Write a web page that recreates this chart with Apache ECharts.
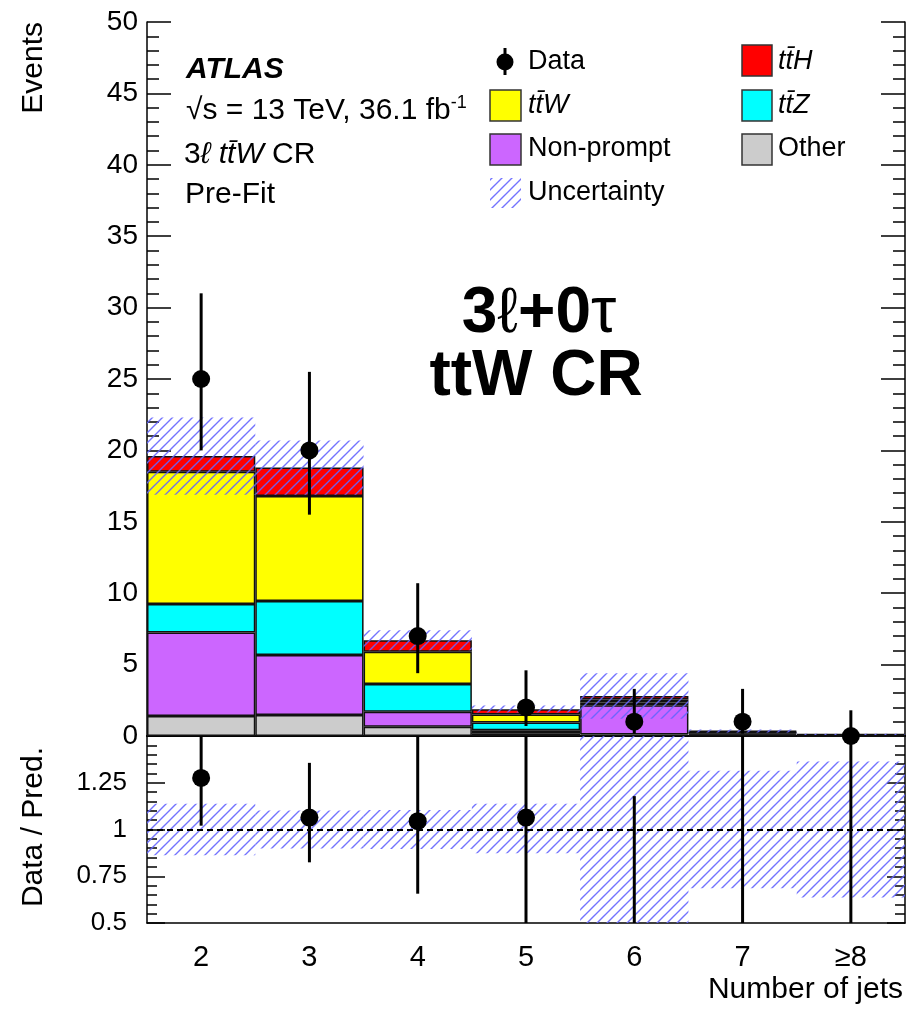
<!DOCTYPE html>
<html>
<head>
<meta charset="utf-8">
<script src="https://cdn.jsdelivr.net/npm/echarts@6/dist/echarts.min.js"></script>
<style>
html,body{margin:0;padding:0;background:#fff;}
#main{width:908px;height:1013px;}
</style>
</head>
<body>
<div id="main"></div>
<script>
// ---- data ----
const categories = ['2', '3', '4', '5', '6', '7', '\u22658'];
const other      = [1.40, 1.47, 0.65, 0.20, 0.10, 0.03, 0.01];
const nonPrompt  = [5.85, 4.20, 1.05, 0.20, 2.05, 0.07, 0.02];
const ttZ        = [2.00, 3.78, 1.95, 0.55, 0.20, 0.07, 0.02];
const ttW        = [9.25, 7.35, 2.25, 0.55, 0.20, 0.13, 0.04];
const ttH        = [1.10, 2.00, 0.80, 0.38, 0.25, 0.05, 0.02];
const uncLo      = [16.9, 16.9, 6.00, 1.64, 1.20, 0.24, 0.07];
const uncHi      = [22.3, 20.7, 7.40, 2.14, 4.40, 0.46, 0.15];
const dataVals   = [25, 20, 7, 2, 1, 1, 0];
const dataLo     = [20.0, 15.5, 4.4, 0.7, 0.17, 0.17, 0];
const dataHi     = [31.0, 25.5, 10.7, 4.6, 3.3, 3.3, 1.8];
const ratioTickLabels = ['0.5', '0.75', '1', '1.25'];

// ---- derived ----
const pred = categories.map((_, i) => other[i] + nonPrompt[i] + ttZ[i] + ttW[i] + ttH[i]);
const topHatchRows = categories.map((_, i) => [i, Math.max(0, uncLo[i]), uncHi[i]]);
const topDataRows = categories.map((_, i) => [i, dataVals[i], dataLo[i], dataHi[i]]);
const ratioHatchRows = categories.map((_, i) => [i, uncLo[i] / pred[i], uncHi[i] / pred[i]]);
const ratioDataRows = categories.map((_, i) => [i, dataVals[i] / pred[i], dataLo[i] / pred[i], dataHi[i] / pred[i]]);

const FONT = '"Liberation Sans", Arial, Helvetica, sans-serif';
const RMIN = 0.5, RMAX = 1.5;

// hatch pattern
function makeHatch() {
  const s = 10;
  const c = document.createElement('canvas');
  c.width = s; c.height = s;
  const g = c.getContext('2d');
  g.strokeStyle = 'rgba(100,100,255,0.9)';
  g.lineWidth = 1.4;
  g.beginPath();
  g.moveTo(-1, s + 1); g.lineTo(s + 1, -1);
  g.moveTo(-1, 1); g.lineTo(1, -1);
  g.moveTo(s - 1, s + 1); g.lineTo(s + 1, s - 1);
  g.stroke();
  return c;
}
const hatch = makeHatch();
const hatchFill = { image: hatch, repeat: 'repeat' };

const chart = echarts.init(document.getElementById('main'), null, { renderer: 'canvas' });

function barSeries(name, values, color) {
  return {
    name, type: 'bar', xAxisIndex: 0, yAxisIndex: 0, stack: 'bkg',
    data: values, barCategoryGap: '0%', barGap: '0%',
    itemStyle: { color, borderColor: '#111', borderWidth: 1.5 },
    emphasis: { disabled: true }, silent: true, z: 2
  };
}

function hatchRender(clampLo, clampHi) {
  return function (params, api) {
    const i = api.value(0);
    let lo = api.value(1), hi = api.value(2);
    lo = Math.max(clampLo, lo); hi = Math.min(clampHi, hi);
    if (hi <= lo) return null;
    const pHi = api.coord([i, hi]);
    const pLo = api.coord([i, lo]);
    const w = api.size([1, 0])[0];
    return {
      type: 'rect',
      shape: { x: pHi[0] - w / 2, y: pHi[1], width: w, height: pLo[1] - pHi[1] },
      style: { fill: hatchFill }
    };
  };
}

function dataRender(clampLo, clampHi) {
  return function (params, api) {
    const i = api.value(0);
    const v = api.value(1);
    let lo = api.value(2), hi = api.value(3);
    lo = Math.max(clampLo, lo); hi = Math.min(clampHi, hi);
    const children = [];
    if (hi > lo) {
      const a = api.coord([i, hi]);
      const b = api.coord([i, lo]);
      children.push({ type: 'line', shape: { x1: a[0], y1: a[1], x2: b[0], y2: b[1] },
        style: { stroke: '#000', lineWidth: 3 } });
    }
    if (v >= clampLo && v <= clampHi) {
      const p = api.coord([i, v]);
      children.push({ type: 'circle', shape: { cx: p[0], cy: p[1], r: 9 }, style: { fill: '#000' } });
    }
    return { type: 'group', children };
  };
}

const axisLineStyle = { color: '#000', width: 1.5 };

const option = {
  backgroundColor: '#fff',
  animation: false,
  textStyle: { fontFamily: FONT },
  grid: [
    { left: 147, right: 3, top: 22, height: 714 },
    { left: 147, right: 3, top: 736, height: 187 }
  ],
  xAxis: [
    { type: 'category', gridIndex: 0, data: categories, position: 'bottom',
      axisLine: { lineStyle: axisLineStyle }, axisLabel: { show: false },
      axisTick: { inside: true, length: 22, lineStyle: axisLineStyle } },
    { type: 'category', gridIndex: 0, data: categories, position: 'top',
      axisLine: { lineStyle: axisLineStyle }, axisLabel: { show: false },
      axisTick: { inside: true, length: 22, lineStyle: axisLineStyle } },
    { type: 'category', gridIndex: 1, data: categories, position: 'bottom',
      axisLine: { lineStyle: axisLineStyle },
      axisLabel: { show: true, fontSize: 29, color: '#000', fontFamily: FONT, margin: 20 },
      axisTick: { inside: true, length: 9, lineStyle: axisLineStyle } },
    { type: 'category', gridIndex: 1, data: categories, position: 'top',
      axisLine: { lineStyle: axisLineStyle }, axisLabel: { show: false },
      axisTick: { inside: true, length: 9, lineStyle: axisLineStyle } }
  ],
  yAxis: [
    { type: 'value', gridIndex: 0, min: 0, max: 50, interval: 5, position: 'left',
      axisLine: { show: true, lineStyle: axisLineStyle },
      axisTick: { show: true, inside: true, length: 24, lineStyle: axisLineStyle },
      minorTick: { show: true, splitNumber: 5, length: 12, lineStyle: { color: '#000', width: 1.5 } },
      splitLine: { show: false },
      axisLabel: { fontSize: 28, color: '#000', fontFamily: FONT, margin: 9 } },
    { type: 'value', gridIndex: 0, min: 0, max: 50, interval: 5, position: 'right',
      axisLine: { show: true, lineStyle: axisLineStyle },
      axisTick: { show: true, inside: true, length: 24, lineStyle: axisLineStyle },
      minorTick: { show: true, splitNumber: 5, length: 12, lineStyle: { color: '#000', width: 1.5 } },
      splitLine: { show: false }, axisLabel: { show: false } },
    { type: 'value', gridIndex: 1, min: RMIN, max: RMAX, interval: 0.25, position: 'left',
      axisLine: { show: true, lineStyle: axisLineStyle },
      axisTick: { show: true, inside: true, length: 18, lineStyle: axisLineStyle },
      minorTick: { show: true, splitNumber: 5, length: 10, lineStyle: { color: '#000', width: 1.5 } },
      splitLine: { show: false },
      axisLabel: { fontSize: 26, color: '#000', fontFamily: FONT, margin: 20,
        formatter: v => { const s = String(Math.round(v * 100) / 100); return ratioTickLabels.indexOf(s) >= 0 ? s : ''; } } },
    { type: 'value', gridIndex: 1, min: RMIN, max: RMAX, interval: 0.25, position: 'right',
      axisLine: { show: true, lineStyle: axisLineStyle },
      axisTick: { show: true, inside: true, length: 18, lineStyle: axisLineStyle },
      minorTick: { show: true, splitNumber: 5, length: 10, lineStyle: { color: '#000', width: 1.5 } },
      splitLine: { show: false }, axisLabel: { show: false } }
  ],
  series: [
    barSeries('Other', other, '#cccccc'),
    barSeries('Non-prompt', nonPrompt, '#cc66ff'),
    barSeries('ttZ', ttZ, '#00ffff'),
    barSeries('ttW', ttW, '#ffff00'),
    barSeries('ttH', ttH, '#ff0000'),
    { name: 'Uncertainty', type: 'custom', xAxisIndex: 0, yAxisIndex: 0, z: 3, silent: true,
      data: topHatchRows, renderItem: hatchRender(0, 50), clip: true },
    { name: 'Data', type: 'custom', xAxisIndex: 0, yAxisIndex: 0, z: 5, silent: true,
      data: topDataRows, renderItem: dataRender(0, 50), clip: false },
    { name: 'RatioUnc', type: 'custom', xAxisIndex: 2, yAxisIndex: 2, z: 3, silent: true,
      data: ratioHatchRows, renderItem: hatchRender(RMIN, RMAX), clip: true,
      markLine: { silent: true, symbol: 'none', label: { show: false },
        lineStyle: { color: '#000', type: [6, 4], width: 2 }, data: [{ yAxis: 1 }] } },
    { name: 'Ratio', type: 'custom', xAxisIndex: 2, yAxisIndex: 2, z: 4, silent: true,
      data: ratioDataRows, renderItem: dataRender(RMIN, RMAX), clip: false }
  ],
  graphic: [
    // axis titles
    { type: 'text', x: 34, y: 22, rotation: Math.PI / 2,
      style: { text: 'Events', font: '30px ' + FONT, fill: '#000', align: 'right', verticalAlign: 'middle' } },
    { type: 'text', x: 34, y: 747, rotation: Math.PI / 2,
      style: { text: 'Data / Pred.', font: '30px ' + FONT, fill: '#000', align: 'right', verticalAlign: 'middle' } },
    { type: 'text', x: 903, y: 990,
      style: { text: 'Number of jets', font: '30px ' + FONT, fill: '#000', align: 'right', verticalAlign: 'middle' } },
    // ATLAS labels
    { type: 'text', x: 186, y: 70,
      style: { text: 'ATLAS', font: 'italic bold 30px ' + FONT, fill: '#000', align: 'left', verticalAlign: 'middle' } },
    { type: 'text', x: 186, y: 110,
      style: { text: '{n|\u221As = 13 TeV, 36.1 fb}{s|-1}', fill: '#000', align: 'left', verticalAlign: 'middle',
        rich: { n: { fontSize: 30, fontFamily: FONT, verticalAlign: 'bottom' },
                s: { fontSize: 18, fontFamily: FONT, verticalAlign: 'top', padding: [0, 0, 14, 0] } } } },
    { type: 'text', x: 184, y: 155,
      style: { text: '{n|3}{i|\u2113 tt\u0304W}{n|\u00A0CR}', fill: '#000', align: 'left', verticalAlign: 'middle',
        rich: { n: { fontSize: 30, fontFamily: FONT }, i: { fontSize: 30, fontFamily: FONT, fontStyle: 'italic' } } } },
    { type: 'text', x: 185, y: 195,
      style: { text: 'Pre-Fit', font: '30px ' + FONT, fill: '#000', align: 'left', verticalAlign: 'middle' } },
    // big region label
    { type: 'text', x: 539, y: 314,
      style: { text: '{b|3}{l|\u2113}{b|+0}{t|\u03C4}', fill: '#000', align: 'center', verticalAlign: 'middle',
        rich: { b: { fontSize: 64, fontWeight: 'bold', fontFamily: FONT },
                l: { fontSize: 64, fontFamily: FONT },
                t: { fontSize: 64, fontFamily: FONT } } } },
    { type: 'text', x: 536, y: 377,
      style: { text: 'ttW CR', font: 'bold 64px ' + FONT, fill: '#000', align: 'center', verticalAlign: 'middle' } },
    // legend column 1
    { type: 'line', shape: { x1: 505, y1: 48, x2: 505, y2: 75 }, style: { stroke: '#000', lineWidth: 3 } },
    { type: 'circle', shape: { cx: 505, cy: 62, r: 8.5 }, style: { fill: '#000' } },
    { type: 'text', x: 528, y: 62,
      style: { text: 'Data', font: '27px ' + FONT, fill: '#000', align: 'left', verticalAlign: 'middle' } },
    { type: 'rect', shape: { x: 490, y: 90, width: 31, height: 31 }, style: { fill: '#ffff00', stroke: '#333', lineWidth: 1.5 } },
    { type: 'text', x: 528, y: 105,
      style: { text: 'tt\u0304W', font: 'italic 27px ' + FONT, fill: '#000', align: 'left', verticalAlign: 'middle' } },
    { type: 'rect', shape: { x: 490, y: 134, width: 31, height: 31 }, style: { fill: '#cc66ff', stroke: '#333', lineWidth: 1.5 } },
    { type: 'text', x: 528, y: 149,
      style: { text: 'Non-prompt', font: '27px ' + FONT, fill: '#000', align: 'left', verticalAlign: 'middle' } },
    { type: 'rect', shape: { x: 490, y: 178, width: 31, height: 30 }, style: { fill: hatchFill } },
    { type: 'text', x: 528, y: 193,
      style: { text: 'Uncertainty', font: '27px ' + FONT, fill: '#000', align: 'left', verticalAlign: 'middle' } },
    // legend column 2
    { type: 'rect', shape: { x: 742, y: 45, width: 30, height: 31 }, style: { fill: '#ff0000', stroke: '#333', lineWidth: 1.5 } },
    { type: 'text', x: 778, y: 61,
      style: { text: 'tt\u0304H', font: 'italic 27px ' + FONT, fill: '#000', align: 'left', verticalAlign: 'middle' } },
    { type: 'rect', shape: { x: 742, y: 90, width: 30, height: 31 }, style: { fill: '#00ffff', stroke: '#333', lineWidth: 1.5 } },
    { type: 'text', x: 778, y: 105,
      style: { text: 'tt\u0304Z', font: 'italic 27px ' + FONT, fill: '#000', align: 'left', verticalAlign: 'middle' } },
    { type: 'rect', shape: { x: 742, y: 134, width: 30, height: 31 }, style: { fill: '#cccccc', stroke: '#333', lineWidth: 1.5 } },
    { type: 'text', x: 778, y: 149,
      style: { text: 'Other', font: '27px ' + FONT, fill: '#000', align: 'left', verticalAlign: 'middle' } }
  ]
};
chart.setOption(option);
</script>
</body>
</html>
